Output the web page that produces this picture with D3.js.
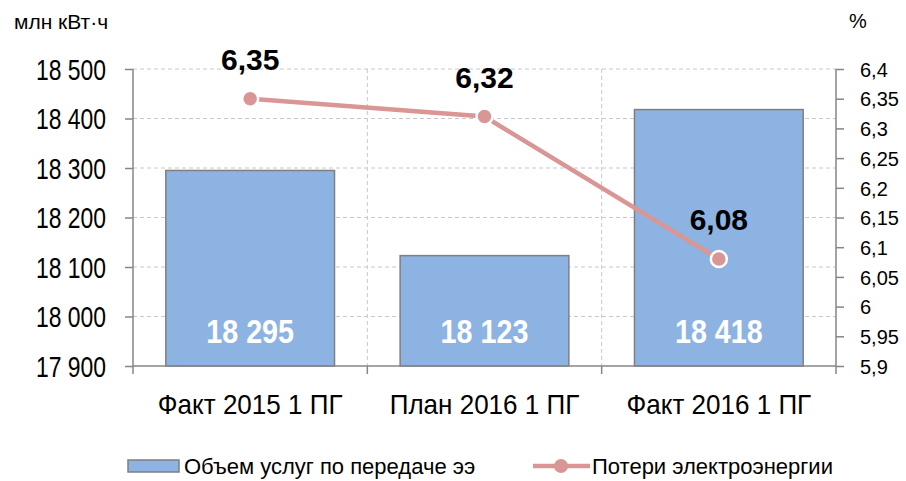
<!DOCTYPE html>
<html>
<head>
<meta charset="utf-8">
<script src="https://cdn.jsdelivr.net/npm/d3@7"></script>
<style>
  body { margin: 0; background: #fff; }
  svg text { font-family: 'Liberation Sans', Arial, sans-serif; }
</style>
</head>
<body>
<div id="chart"></div>
<script>
const categories = ['Факт 2015 1 ПГ', 'План 2016 1 ПГ', 'Факт 2016 1 ПГ']
const volume = [18295, 18123, 18418]
const losses = [6.35, 6.32, 6.08]
const leftTicks = [17900, 18000, 18100, 18200, 18300, 18400, 18500]
const rightTicks = [5.9, 5.95, 6, 6.05, 6.1, 6.15, 6.2, 6.25, 6.3, 6.35, 6.4]

const width = 906, height = 481
const m = { left: 133, right: 836, top: 69, bottom: 366 }

const ru = d3.formatLocale({ decimal: ',', thousands: ' ', grouping: [3], currency: ['', ''] })
const fmtInt = ru.format(',d')
const fmtPct = ru.format('.2~f')

const barColor = '#8db3e2'
const lineColor = '#d99694'
const axisColor = '#868686'

// squeeze text horizontally (the source uses a narrow face)
const squeeze = (sel, sx) => {
  sel.each(function () {
    const t = d3.select(this)
    const x0 = +t.attr('x') || 0
    t.attr('x', x0 / sx).attr('transform', `scale(${sx},1)`)
  })
}

const svg = d3.select('#chart').append('svg')
  .attr('width', width).attr('height', height)
  .attr('viewBox', [0, 0, width, height])

const x = d3.scaleBand().domain(categories).range([m.left, m.right]).paddingInner(0).paddingOuter(0)
const yL = d3.scaleLinear().domain([17900, 18500]).range([m.bottom, m.top])
const yR = d3.scaleLinear().domain([5.9, 6.4]).range([m.bottom, m.top])

// horizontal grid
svg.append('g')
  .selectAll('line')
  .data(leftTicks.slice(1))
  .enter().append('line')
  .attr('x1', m.left).attr('x2', m.right)
  .attr('y1', d => yL(d)).attr('y2', d => yL(d))
  .attr('stroke', '#c8c8c8').attr('stroke-dasharray', '4,3')

// vertical grid between categories
svg.append('g')
  .selectAll('line')
  .data(categories.slice(1))
  .enter().append('line')
  .attr('x1', d => x(d)).attr('x2', d => x(d))
  .attr('y1', m.top).attr('y2', m.bottom)
  .attr('stroke', '#c8c8c8').attr('stroke-dasharray', '4,3')

// bars
const bw = x.bandwidth() * 0.72
svg.append('g')
  .selectAll('rect')
  .data(volume)
  .enter().append('rect')
  .attr('x', (d, i) => x(categories[i]) + (x.bandwidth() - bw) / 2)
  .attr('width', bw)
  .attr('y', d => yL(d))
  .attr('height', d => yL(17900) - yL(d))
  .attr('fill', barColor)
  .attr('stroke', '#7f7f7f').attr('stroke-width', 1.5)

const barLabels = svg.append('g')
  .selectAll('text')
  .data(volume)
  .enter().append('text')
  .attr('x', (d, i) => x(categories[i]) + x.bandwidth() / 2)
  .attr('y', yL(17900) - 23)
  .attr('text-anchor', 'middle')
  .attr('fill', '#fff')
  .attr('font-weight', 'bold')
  .attr('font-size', 33)
  .text(d => fmtInt(d))
squeeze(barLabels, 0.87)

// left axis
const axL = svg.append('g')
  .attr('transform', `translate(${m.left},0)`)
  .call(d3.axisLeft(yL).tickValues(leftTicks).tickSize(8).tickPadding(19).tickFormat(fmtInt))
axL.selectAll('path, line').attr('stroke', axisColor).attr('stroke-width', 1.5)
axL.selectAll('text').attr('font-size', 29).attr('fill', '#000').attr('dy', '0.35em')
axL.select('.domain').attr('d', `M0,${m.bottom}V${m.top}`)
squeeze(axL.selectAll('text'), 0.79)

// right axis
const axR = svg.append('g')
  .attr('transform', `translate(${m.right},0)`)
  .call(d3.axisRight(yR).tickValues(rightTicks).tickSize(8).tickPadding(16).tickFormat(fmtPct))
axR.selectAll('path, line').attr('stroke', axisColor).attr('stroke-width', 1.5)
axR.selectAll('text').attr('font-size', 20).attr('fill', '#000').attr('dy', '0.36em')
axR.select('.domain').attr('d', `M0,${m.bottom}V${m.top}`)

// bottom axis
const axB = svg.append('g')
  .attr('transform', `translate(0,${m.bottom})`)
  .call(d3.axisBottom(x).tickSize(0))
axB.select('.domain').attr('d', `M${m.left},0H${m.right}`).attr('stroke', axisColor).attr('stroke-width', 1.5)
axB.selectAll('text').attr('font-size', 28).attr('fill', '#000').attr('y', 48).attr('dy', 0)
squeeze(axB.selectAll('text'), 0.93)
svg.append('g')
  .selectAll('line')
  .data(categories.concat([null]))
  .enter().append('line')
  .attr('x1', d => d === null ? m.right : x(d))
  .attr('x2', d => d === null ? m.right : x(d))
  .attr('y1', m.bottom).attr('y2', m.bottom + 8)
  .attr('stroke', axisColor).attr('stroke-width', 1.5)

// losses line
const line = d3.line()
  .x((d, i) => x(categories[i]) + x.bandwidth() / 2)
  .y(d => yR(d))
svg.append('path')
  .datum(losses)
  .attr('d', line)
  .attr('fill', 'none')
  .attr('stroke', lineColor)
  .attr('stroke-width', 4.5)

svg.append('g')
  .selectAll('circle')
  .data(losses)
  .enter().append('circle')
  .attr('cx', (d, i) => x(categories[i]) + x.bandwidth() / 2)
  .attr('cy', d => yR(d))
  .attr('r', 8)
  .attr('fill', lineColor)
  .attr('stroke', '#fff').attr('stroke-width', 2.5)

svg.append('g')
  .selectAll('text')
  .data(losses)
  .enter().append('text')
  .attr('x', (d, i) => x(categories[i]) + x.bandwidth() / 2)
  .attr('y', d => yR(d) - 29)
  .attr('text-anchor', 'middle')
  .attr('font-weight', 'bold')
  .attr('font-size', 30)
  .text(d => fmtPct(d))

// axis titles
svg.append('text').attr('x', 14).attr('y', 29).attr('font-size', 21).text('млн кВт·ч')
svg.append('text').attr('x', 849).attr('y', 28).attr('font-size', 20).text('%')

// legend
const lg = svg.append('g')
lg.append('rect')
  .attr('x', 128).attr('y', 460).attr('width', 51).attr('height', 12)
  .attr('fill', barColor).attr('stroke', '#7f7f7f').attr('stroke-width', 1.5)
lg.append('text').attr('x', 184).attr('y', 474).attr('font-size', 22).text('Объем услуг по передаче ээ')
lg.append('line')
  .attr('x1', 533).attr('x2', 590).attr('y1', 466).attr('y2', 466)
  .attr('stroke', lineColor).attr('stroke-width', 4.5)
lg.append('circle')
  .attr('cx', 561).attr('cy', 466).attr('r', 7)
  .attr('fill', lineColor)
lg.append('text').attr('x', 592).attr('y', 474).attr('font-size', 22).text('Потери электроэнергии')
</script>
</body>
</html>
